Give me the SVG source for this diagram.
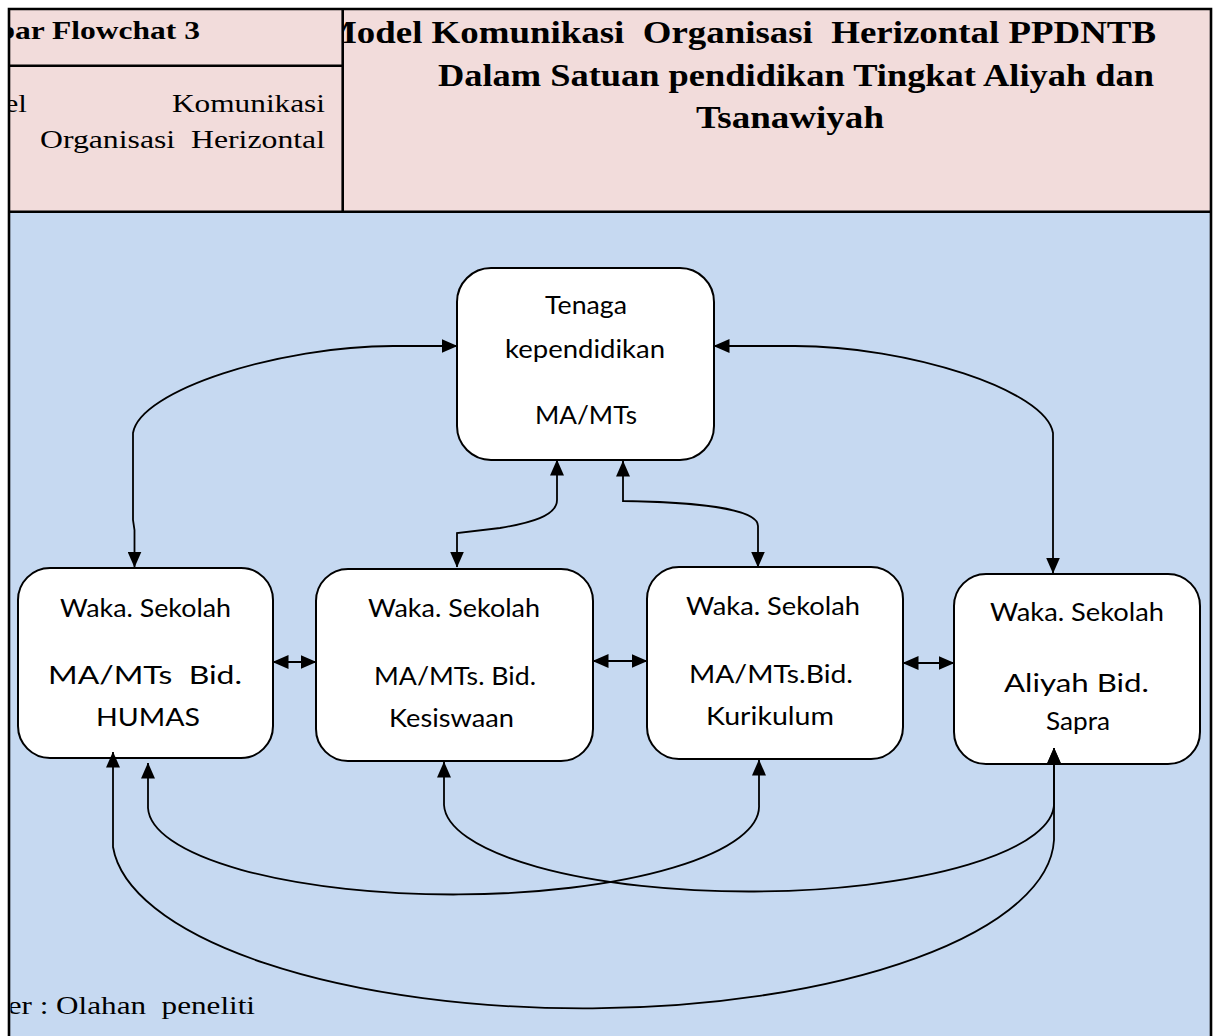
<svg xmlns="http://www.w3.org/2000/svg" width="1221" height="1036" viewBox="0 0 1221 1036">
  <style>
    .frame { stroke: #000; stroke-width: 2.6; fill: none; }
    .box { fill: #fff; stroke: #000; stroke-width: 2; }
    .lbl { font-family: Lato, "Open Sans", "Liberation Sans", sans-serif; font-size: 25px; fill: #000; }
    .ser { font-family: "Liberation Serif", "Times New Roman", serif; font-size: 26px; fill: #000; }
    .serb { font-family: "Liberation Serif", "Times New Roman", serif; font-size: 26px; font-weight: bold; fill: #000; }
    .ttl { font-family: "Liberation Serif", "Times New Roman", serif; font-size: 31px; font-weight: bold; fill: #000; }
    .wire { fill: none; stroke: #000; stroke-width: 1.8; marker-start: url(#head); marker-end: url(#head); }
  </style>
  <defs>
    <marker id="head" markerUnits="userSpaceOnUse" markerWidth="16" markerHeight="14" refX="15.5" refY="7" orient="auto-start-reverse" viewBox="0 0 16 14">
      <path d="M0,0 L16,7 L0,14 z" fill="#000"/>
    </marker>
    <clipPath id="clipLeftCell"><rect x="10" y="0" width="332" height="211"/></clipPath>
    <clipPath id="clipTitleCell"><rect x="344" y="0" width="868" height="211"/></clipPath>
    <clipPath id="clipBody"><rect x="10.5" y="212" width="1200" height="824"/></clipPath>
  </defs>

  <!-- page background and table frame -->
  <rect x="0" y="0" width="1221" height="1036" fill="#fff"/>
  <rect x="9" y="8" width="1202" height="204" fill="#F2DCDB"/>
  <rect x="9" y="212" width="1202" height="824" fill="#C6D9F1"/>
  <g id="frame">
    <path class="frame" d="M9,1036 V9 H1211 V1036"/>
    <path class="frame" d="M9,211.7 H1211"/>
    <path class="frame" d="M342.7,9 V211.7"/>
    <path class="frame" d="M9,65.7 H342.7"/>
  </g>

  <!-- header cells -->
  <g id="header-left" clip-path="url(#clipLeftCell)">
    <text class="serb" x="-69" y="39" textLength="269" lengthAdjust="spacingAndGlyphs">Gambar Flowchat 3</text>
    <text class="ser" x="-54" y="112" textLength="81" lengthAdjust="spacingAndGlyphs">Model</text>
    <text class="ser" x="172" y="112" textLength="153" lengthAdjust="spacingAndGlyphs">Komunikasi</text>
    <text class="ser" x="40" y="148" textLength="285" lengthAdjust="spacingAndGlyphs" xml:space="preserve">Organisasi  Herizontal</text>
  </g>
  <g id="header-title" clip-path="url(#clipTitleCell)">
    <text class="ttl" x="322" y="43" textLength="834" lengthAdjust="spacingAndGlyphs" xml:space="preserve">Model Komunikasi  Organisasi  Herizontal PPDNTB</text>
    <text class="ttl" x="438" y="86" textLength="716" lengthAdjust="spacingAndGlyphs">Dalam Satuan pendidikan Tingkat Aliyah dan</text>
    <text class="ttl" x="696" y="128" textLength="188" lengthAdjust="spacingAndGlyphs">Tsanawiyah</text>
  </g>

  <!-- nodes -->
  <g id="node-tenaga">
    <rect class="box" x="457" y="268" width="257" height="192" rx="34"/>
    <text class="lbl" x="545" y="314" textLength="82" lengthAdjust="spacingAndGlyphs">Tenaga</text>
    <text class="lbl" x="505" y="358" textLength="160" lengthAdjust="spacingAndGlyphs">kependidikan</text>
    <text class="lbl" x="535" y="424" textLength="102" lengthAdjust="spacingAndGlyphs">MA/MTs</text>
  </g>
  <g id="node-humas">
    <rect class="box" x="18" y="568" width="255" height="190" rx="32"/>
    <text class="lbl" x="60" y="617" textLength="171" lengthAdjust="spacingAndGlyphs">Waka. Sekolah</text>
    <text class="lbl" x="48" y="684" textLength="194" lengthAdjust="spacingAndGlyphs" xml:space="preserve">MA/MTs  Bid.</text>
    <text class="lbl" x="96" y="726" textLength="104" lengthAdjust="spacingAndGlyphs">HUMAS</text>
  </g>
  <g id="node-kesiswaan">
    <rect class="box" x="316" y="569" width="277" height="192" rx="32"/>
    <text class="lbl" x="368" y="617" textLength="172" lengthAdjust="spacingAndGlyphs">Waka. Sekolah</text>
    <text class="lbl" x="374" y="685" textLength="162" lengthAdjust="spacingAndGlyphs">MA/MTs. Bid.</text>
    <text class="lbl" x="389" y="727" textLength="125" lengthAdjust="spacingAndGlyphs">Kesiswaan</text>
  </g>
  <g id="node-kurikulum">
    <rect class="box" x="647" y="567" width="256" height="192" rx="32"/>
    <text class="lbl" x="686" y="615" textLength="174" lengthAdjust="spacingAndGlyphs">Waka. Sekolah</text>
    <text class="lbl" x="689" y="683" textLength="164" lengthAdjust="spacingAndGlyphs">MA/MTs.Bid.</text>
    <text class="lbl" x="706" y="725" textLength="128" lengthAdjust="spacingAndGlyphs">Kurikulum</text>
  </g>
  <g id="node-sapra">
    <rect class="box" x="954" y="574" width="246" height="190" rx="32"/>
    <text class="lbl" x="990" y="621" textLength="174" lengthAdjust="spacingAndGlyphs">Waka. Sekolah</text>
    <text class="lbl" x="1004" y="692" textLength="145" lengthAdjust="spacingAndGlyphs">Aliyah Bid.</text>
    <text class="lbl" x="1046" y="730" textLength="64" lengthAdjust="spacingAndGlyphs">Sapra</text>
  </g>

  <!-- connectors -->
  <g id="connectors">
    <path class="wire" d="M457,346 H393 C280,346 140,390 133,433 V520 L134.5,530 V567"/>
    <path class="wire" d="M714,346 H795 C908,346 1046,390 1053,433 V573"/>
    <path class="wire" d="M557,460 V500 C557,516 530,523 500,528 L457,533 V567"/>
    <path class="wire" d="M623,461 V501 C690,502 758,508 758,526 V567"/>
    <path class="wire" d="M273,662 H316"/>
    <path class="wire" d="M593,661 H647"/>
    <path class="wire" d="M903,663 H954"/>
    <path class="wire" d="M148,763 V808 A305.5 88 0 0 0 759,805 V760"/>
    <path class="wire" d="M444,762 V805 A305 88 0 0 0 1054,802 V748"/>
    <path class="wire" d="M113,752 V847 A471 172 0 0 0 1054,840 V748"/>
  </g>

  <!-- source note -->
  <g id="source-note" clip-path="url(#clipBody)">
    <text class="ser" x="-65" y="1014" textLength="320" lengthAdjust="spacingAndGlyphs" xml:space="preserve">Sumber : Olahan  peneliti</text>
  </g>
</svg>
